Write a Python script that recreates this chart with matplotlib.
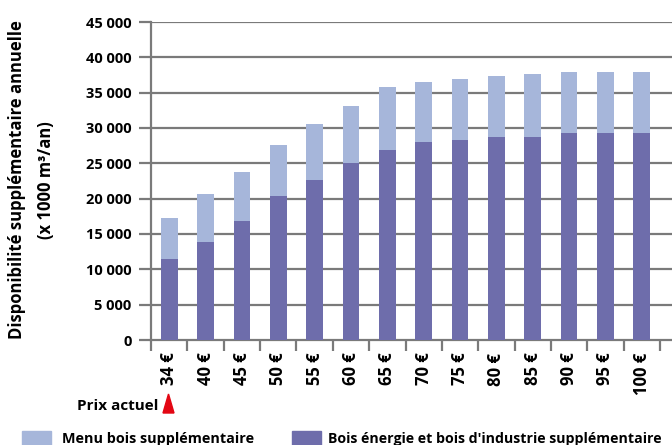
import matplotlib.pyplot as plt
import matplotlib.patches as mpatches
import numpy as np

plt.rcParams["font.family"] = ["Open Sans", "DejaVu Sans"]
plt.rcParams["font.weight"] = "bold"

prices = ["34 €", "40 €", "45 €", "50 €", "55 €", "60 €", "65 €",
          "70 €", "75 €", "80 €", "85 €", "90 €", "95 €", "100 €"]
# bois énergie et bois d'industrie (bottom series)
energie = [11400, 13800, 16800, 20350, 22600, 25000, 26850,
           28000, 28300, 28700, 28700, 29250, 29250, 29250]
# total height of stacked bar
total = [17200, 20600, 23750, 27550, 30550, 33100, 35800,
         36500, 36900, 37350, 37650, 37900, 37900, 37900]
menu = [t - e for t, e in zip(total, energie)]

light = "#a6b6da"
dark = "#6e6dab"
grid_c = "#7a7a7a"

fig = plt.figure(figsize=(6.72, 4.45), dpi=100)
ax = fig.add_axes([151 / 672, 1 - 340 / 445, (672 - 151) / 672, (340 - 22) / 445])

x = np.arange(len(prices))
ax.bar(x, energie, width=0.46, color=dark, zorder=3)
ax.bar(x, menu, width=0.46, bottom=energie, color=light, zorder=3)

ax.set_ylim(0, 45000)
ax.set_xlim(-0.5, 13.83)
yt = np.arange(0, 45001, 5000)
ax.set_yticks(yt)
ax.set_yticklabels([f"{v:,}".replace(",", " ") for v in yt])
for v in yt[1:]:
    ax.axhline(v, color=grid_c, lw=1.6, zorder=1)
ax.tick_params(axis="y", length=9, width=1.6, color=grid_c, labelsize=10.5, pad=5)

ax.set_xticks(np.arange(-0.5, 14, 1))
ax.set_xticklabels([])
ax.set_xticks(x, minor=True)
ax.set_xticklabels(prices, minor=True, rotation=90, fontsize=12)
ax.tick_params(axis="x", which="major", length=8, width=1.6, color=grid_c, direction="out")
ax.tick_params(axis="x", which="minor", length=0, pad=9)

for s in ["top", "right"]:
    ax.spines[s].set_visible(False)
for s in ["left", "bottom"]:
    ax.spines[s].set_color(grid_c)
    ax.spines[s].set_linewidth(1.6)

fig.text(17 / 672, 1 - 180 / 445, "Disponibilité supplémentaire annuelle",
         rotation=90, ha="center", va="center", fontsize=12)
fig.text(46 / 672, 1 - 180 / 445, "(x 1000 m³/an)",
         rotation=90, ha="center", va="center", fontsize=12)

fig.text(158 / 672, 1 - 406 / 445, "Prix actuel", ha="right", va="center", fontsize=11)
fig.patches.append(mpatches.Polygon([[163 / 672, 1 - 413 / 445], [174 / 672, 1 - 413 / 445],
                                     [168.5 / 672, 1 - 394 / 445]], closed=True,
                                    transform=fig.transFigure, color="#e30613"))

fig.patches.append(mpatches.Rectangle((22 / 672, 0), 29 / 672, 14 / 445,
                                      transform=fig.transFigure, color=light))
fig.text(62 / 672, 1 - 439 / 445, "Menu bois supplémentaire", va="center", fontsize=10.4)
fig.patches.append(mpatches.Rectangle((292 / 672, 0), 29 / 672, 14 / 445,
                                      transform=fig.transFigure, color=dark))
fig.text(328 / 672, 1 - 439 / 445, "Bois énergie et bois d'industrie supplémentaire",
         va="center", fontsize=10.2)

fig.savefig("out.png", dpi=100)
